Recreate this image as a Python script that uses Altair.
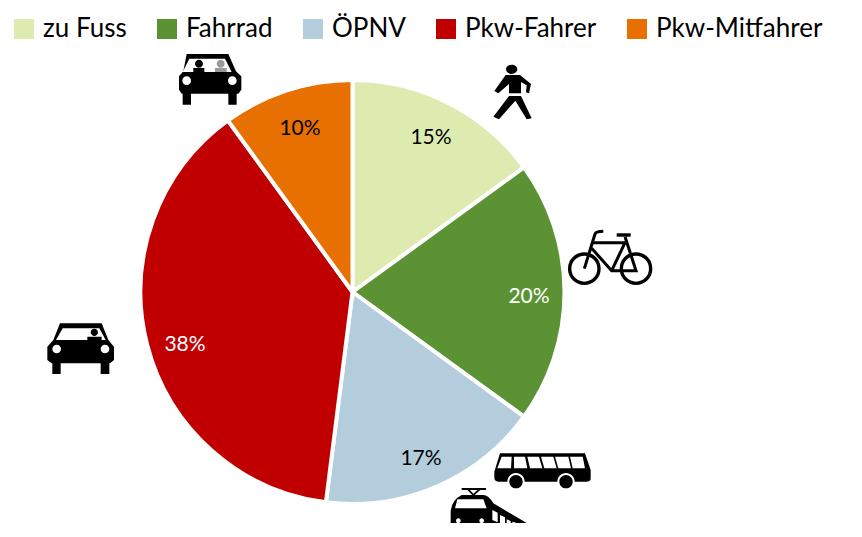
import altair as alt
import pandas as pd

categories = ["zu Fuss", "Fahrrad", "ÖPNV", "Pkw-Fahrer", "Pkw-Mitfahrer"]
values = [15, 20, 17, 38, 10]
colors = ["#DDEBB0", "#5B9334", "#B4CDDD", "#C00000", "#E87000"]
label_colors = ["#000000", "#FFFFFF", "#000000", "#FFFFFF", "#000000"]
label_xy = [(431, 138), (529, 297), (421, 459), (185, 345), (300, 129)]

FONT = "Lato"
OFF = 8
CX, CY, R = 352.5, 292, 212


def circle(cx, cy, r, ry=None):
    ry = r if ry is None else ry
    return f"M{cx-r},{cy}A{r},{ry} 0 1 1 {cx+r},{cy}A{r},{ry} 0 1 1 {cx-r},{cy}Z"


def poly(*pts):
    return "M" + "L".join(f"{x},{y}" for x, y in pts) + "Z"


def rect(x0, y0, x1, y1):
    return poly((x0, y0), (x1, y0), (x1, y1), (x0, y1))


BK, WH, GR = "#000000", "#FFFFFF", "#9A9A9A"

# Each icon: crop origin on the page, then (path, colour, stroke width or None); paths are in 1/3 px units
icons = [
    ((485, 60), [
        (circle(80, 28, 17, 14) +
         poly((62, 45), (105, 45), (138, 72), (132, 100), (123, 97), (125, 76), (108, 66), (108, 100), (72, 100), (72, 72), (40, 100), (28, 93)) +
         poly((72, 108), (108, 108), (140, 175), (125, 178), (91, 122), (42, 178), (25, 170)), BK, None),
    ]),
    ((560, 220), [
        (circle(73, 146, 44) + circle(228, 146, 44), BK, 3.4),
        ("M73,146L105,42Q108,34 130,34M100,68L195,68M95,85L155,152L228,152L195,50M155,152L195,68", BK, 3.0),
        ("M170,45L212,45", BK, 3.4),
    ]),
    ((440, 440), [
        ("M180,40L435,40L452,90L452,115Q452,125 440,125L175,125Q163,125 163,112L163,95Z", BK, None),
        (poly((185, 50), (215, 50), (213, 85), (172, 85)) + poly((222, 50), (255, 50), (262, 85), (222, 85)) +
         poly((262, 50), (297, 50), (307, 85), (270, 85)) + poly((303, 50), (340, 50), (350, 85), (313, 85)) +
         poly((345, 50), (385, 50), (393, 85), (355, 85)) + poly((390, 50), (428, 50), (435, 85), (398, 85)), WH, None),
        (circle(228, 125, 26) + circle(378, 125, 26), WH, None),
        (circle(228, 125, 20) + circle(378, 125, 20), BK, None),
        ("M65,147L138,147M85,149L100,165L118,149", BK, 1.8),
        ("M65,165L130,165Q145,165 160,190L262,250L262,275L40,275Q32,275 32,262L32,215Q35,180 65,165Z", BK, None),
        (poly((52, 178), (130, 178), (140, 205), (45, 205)), WH, None),
        (poly((157, 210), (173, 218), (173, 247), (157, 240)) + poly((180, 225), (195, 232), (195, 255), (180, 252)) +
         poly((200, 238), (212, 243), (212, 258), (200, 257)) + poly((217, 245), (228, 248), (228, 262), (217, 261)) +
         poly((233, 250), (243, 252), (243, 265), (233, 264)) + poly((247, 254), (258, 256), (258, 268), (247, 268)), WH, None),
        (circle(55, 242, 7) + circle(125, 242, 7), WH, None),
        (rect(50, 282, 262, 288) + rect(50, 275, 75, 297) + rect(115, 275, 135, 297), BK, None),
    ]),
    ((40, 315), [
        (poly((60, 25), (185, 25), (205, 75), (222, 95), (222, 135), (210, 145), (35, 145), (22, 135), (22, 95), (40, 75)) +
         rect(37, 145, 62, 177) + rect(182, 145, 208, 177), BK, None),
        (poly((68, 40), (178, 40), (197, 75), (48, 75)), WH, None),
        (circle(163, 52, 11) + rect(142, 65, 185, 75), BK, None),
        (circle(50, 102, 13) + circle(195, 102, 13), WH, None),
    ]),
    ((170, 48), [
        (poly((50, 18), (175, 18), (198, 70), (214, 85), (214, 125), (205, 137), (35, 137), (27, 125), (27, 85), (40, 70)) +
         rect(38, 137, 63, 170) + rect(175, 137, 200, 170), BK, None),
        (poly((58, 32), (165, 32), (185, 72), (38, 72)), WH, None),
        (circle(87, 47, 12) + rect(70, 60, 103, 72), BK, None),
        (circle(152, 47, 12) + rect(135, 60, 170, 72), GR, None),
        (circle(50, 98, 13) + circle(187, 98, 13), WH, None),
    ]),
]

df = pd.DataFrame({"Modus": categories, "Anteil": values, "Ordnung": range(len(values))})
df["Text"] = [f"{v}%" for v in values]

pie = alt.Chart(df).mark_arc(outerRadius=R, stroke="#FFFFFF", strokeWidth=4).encode(
    x=alt.value(CX - OFF),
    y=alt.value(CY - OFF),
    theta=alt.Theta("Anteil:Q", stack=True),
    order=alt.Order("Ordnung:Q"),
    color=alt.Color(
        "Modus:N",
        sort=categories,
        scale=alt.Scale(domain=categories, range=colors),
        legend=alt.Legend(
            title=None,
            orient="none",
            legendX=3,
            legendY=8,
            direction="horizontal",
            columns=5,
            symbolType="square",
            symbolSize=400,
            symbolStrokeWidth=0,
            symbolOffset=0,
            labelFont=FONT,
            labelFontSize=26,
            labelColor="#000000",
            labelLimit=300,
            labelOffset=6,
            columnPadding=27,
        ),
    ),
)

layers = [pie]
for i, (x, y) in enumerate(label_xy):
    layers.append(
        alt.Chart(df[df["Ordnung"] == i]).mark_text(
            font=FONT, fontSize=21, color=label_colors[i], align="center", baseline="middle"
        ).encode(x=alt.value(x - OFF), y=alt.value(y - OFF), text="Text:N")
    )

for (ox, oy), parts in icons:
    for path, col, sw in parts:
        if sw is None:
            mk = alt.Chart(df.head(1)).mark_point(shape=path, size=4 / 9, filled=True, fill=col, stroke=col, strokeWidth=0, opacity=1)
        else:
            mk = alt.Chart(df.head(1)).mark_point(shape=path, size=4 / 9, filled=False, stroke=col, strokeWidth=sw, opacity=1)
        layers.append(mk.encode(x=alt.value(ox - OFF), y=alt.value(oy - OFF)))

chart = alt.layer(*layers).properties(
    width=846, height=515, padding=0, autosize=alt.AutoSizeParams(type="none"),
    background="#FFFFFF",
).configure_view(stroke=None)

chart.save("out.html", embed_options={"renderer": "svg", "actions": False})
